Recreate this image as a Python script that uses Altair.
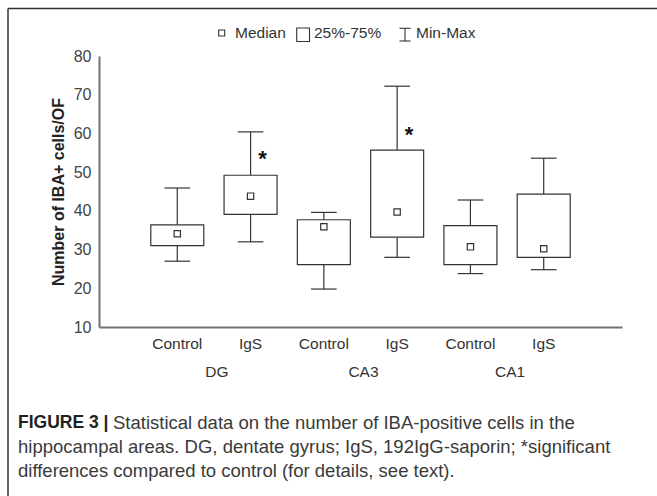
import altair as alt
import pandas as pd

# ---- data ----
regions = ["DG", "DG", "CA3", "CA3", "CA1", "CA1"]
groups = ["Control", "IgS", "Control", "IgS", "Control", "IgS"]
positions = [1, 2, 3, 4, 5, 6]
mins = [27.0, 32.0, 19.8, 28.0, 23.8, 24.8]
q1 = [31.0, 39.1, 26.1, 33.2, 26.1, 28.0]
medians = [34.1, 43.8, 35.9, 39.7, 30.7, 30.2]
q3 = [36.4, 49.2, 37.7, 55.7, 36.2, 44.3]
maxs = [45.9, 60.4, 39.6, 72.2, 42.8, 53.6]

star_positions = [2, 4]
star_values = [54.3, 60.6]

region_names = ["DG", "CA3", "CA1"]
region_centers = [1.5, 3.5, 5.5]

y_ticks = [10, 20, 30, 40, 50, 60, 70, 80]

caption_lines = [
    "Statistical data on the number of IBA-positive cells in the",
    "hippocampal areas. DG, dentate gyrus; IgS, 192IgG-saporin; *significant",
    "differences compared to control (for details, see text).",
]

# ---- layout ----
W, H = 523, 271
OX, OY = 99, 56
FONT = "Liberation Sans"
INK = "#333333"
AXIS = "#707070"

df = pd.DataFrame({
    "region": regions, "group": groups, "pos": positions,
    "mn": mins, "q1": q1, "med": medians, "q3": q3, "mx": maxs,
})
stars = pd.DataFrame({"pos": star_positions, "val": star_values})
regdf = pd.DataFrame({"name": region_names, "pos": region_centers})
one = pd.DataFrame({"a": [0]})

xscale = alt.Scale(domain=[0, 7], nice=False, zero=False)
yscale = alt.Scale(domain=[10, 80], nice=False, zero=False)
xaxis = alt.Axis(labels=False, ticks=False, grid=False, title=None,
                 domainColor=AXIS, domainWidth=2)
yaxis = alt.Axis(values=y_ticks, ticks=False, grid=False, domainColor=AXIS, domainWidth=2,
                 labelFont=FONT, labelFontSize=16, labelColor="#444444", labelPadding=8,
                 title="Number of IBA+ cells/OF", titleFont=FONT, titleFontSize=16,
                 titleFontWeight="bold", titleColor="#222222", titlePadding=7)


def X(f):
    return alt.X(f, type="quantitative", scale=xscale, axis=xaxis)


def Y(f):
    return alt.Y(f, type="quantitative", scale=yscale, axis=yaxis)


base = alt.Chart(df)

whisk_lo = base.mark_rule(color=INK, strokeWidth=1.2).encode(x=X("pos"), y=Y("mn"), y2="q1")
whisk_hi = base.mark_rule(color=INK, strokeWidth=1.2).encode(x=X("pos"), y=Y("q3"), y2="mx")
caps = base.transform_calculate(xl="datum.pos - 0.175", xr="datum.pos + 0.175")
cap_lo = caps.mark_rule(color=INK, strokeWidth=1.2).encode(x=X("xl"), x2="xr", y=Y("mn"))
cap_hi = caps.mark_rule(color=INK, strokeWidth=1.2).encode(x=X("xl"), x2="xr", y=Y("mx"))
boxes = base.mark_bar(size=53, fill="white", stroke=INK, strokeWidth=1.2).encode(
    x=X("pos"), y=Y("q1"), y2="q3")
med = base.mark_square(size=40, fill="white", stroke=INK, strokeWidth=1.2, opacity=1).encode(
    x=X("pos"), y=Y("med"))

grp_labels = base.mark_text(font=FONT, fontSize=15.5, color=INK, baseline="middle").encode(
    x=X("pos"), y=alt.value(343.5 - OY), text="group:N")
reg_labels = alt.Chart(regdf).mark_text(font=FONT, fontSize=15.5, color=INK, baseline="middle",
                                        dx=3).encode(
    x=X("pos"), y=alt.value(372 - OY), text="name:N")

star_marks = alt.Chart(stars).mark_text(text="*", font=FONT, fontSize=22, fontWeight="bold",
                                        color="#111111", dx=12, dy=11, baseline="alphabetic").encode(
    x=X("pos"), y=Y("val"))

# ---- legend (drawn) ----
ly = 33 - OY
leg_small = alt.Chart(one).mark_square(size=36, fill="white", stroke=INK, strokeWidth=1.1, opacity=1).encode(
    x=alt.value(221.7 - OX), y=alt.value(ly))
leg_box = alt.Chart(one).mark_rect(fill="white", stroke=INK, strokeWidth=1.1).encode(
    x=alt.value(296.7 - OX), x2=alt.value(309.5 - OX), y=alt.value(28 - OY), y2=alt.value(41.5 - OY))
leg_w = alt.Chart(one).mark_rule(color=INK, strokeWidth=1.1).encode(
    x=alt.value(405 - OX), y=alt.value(28.3 - OY), y2=alt.value(41 - OY))
leg_wt = alt.Chart(one).mark_rule(color=INK, strokeWidth=1.1).encode(
    x=alt.value(399.5 - OX), x2=alt.value(410.5 - OX), y=alt.value(28.3 - OY))
leg_wb = alt.Chart(one).mark_rule(color=INK, strokeWidth=1.1).encode(
    x=alt.value(399.5 - OX), x2=alt.value(410.5 - OX), y=alt.value(41 - OY))


def ltext(t, x):
    return alt.Chart(one).mark_text(text=t, font=FONT, fontSize=15.5, color=INK, align="left",
                                    baseline="middle").encode(x=alt.value(x - OX), y=alt.value(ly))


leg_texts = ltext("Median", 235) + ltext("25%-75%", 314) + ltext("Min-Max", 416)

# ---- frame ----
frame_left = alt.Chart(one).mark_rule(color="#333333", strokeWidth=1.5).encode(
    x=alt.value(8 - OX), y=alt.value(8.5 - OY), y2=alt.value(496 - OY))
frame_top = alt.Chart(one).mark_rule(color="#333333", strokeWidth=1.5).encode(
    x=alt.value(8 - OX), x2=alt.value(657 - OX), y=alt.value(8.5 - OY))

# ---- caption ----
CFONT = "Liberation Sans"
CFS = 18.5
cap_bold = alt.Chart(one).mark_text(text="FIGURE 3 |", font=CFONT, fontSize=17.5, fontWeight="bold",
                                    color="#222222", align="left", baseline="middle").encode(
    x=alt.value(18 - OX), y=alt.value(423 - OY))
cap1 = alt.Chart(one).mark_text(text=caption_lines[0], font=CFONT, fontSize=CFS, color="#3a3a3a",
                                align="left", baseline="middle").encode(
    x=alt.value(113 - OX), y=alt.value(423 - OY))
cap2 = alt.Chart(one).mark_text(text=caption_lines[1], font=CFONT, fontSize=CFS, color="#3a3a3a",
                                align="left", baseline="middle").encode(
    x=alt.value(18 - OX), y=alt.value(447 - OY))
cap3 = alt.Chart(one).mark_text(text=caption_lines[2], font=CFONT, fontSize=CFS, color="#3a3a3a",
                                align="left", baseline="middle").encode(
    x=alt.value(18 - OX), y=alt.value(471 - OY))

chart = alt.layer(
    whisk_lo, whisk_hi, cap_lo, cap_hi, boxes, med, grp_labels, reg_labels, star_marks,
    leg_small, leg_box, leg_w, leg_wt, leg_wb, leg_texts,
    frame_left, frame_top, cap_bold, cap1, cap2, cap3,
).properties(
    width=W, height=H,
    autosize=alt.AutoSizeParams(type="none"),
    padding={"left": OX, "top": OY, "right": 657 - OX - W, "bottom": 496 - OY - H},
    background="white",
).configure_view(stroke=None)

chart.save("out.html", embed_options={"renderer": "svg", "actions": False})
